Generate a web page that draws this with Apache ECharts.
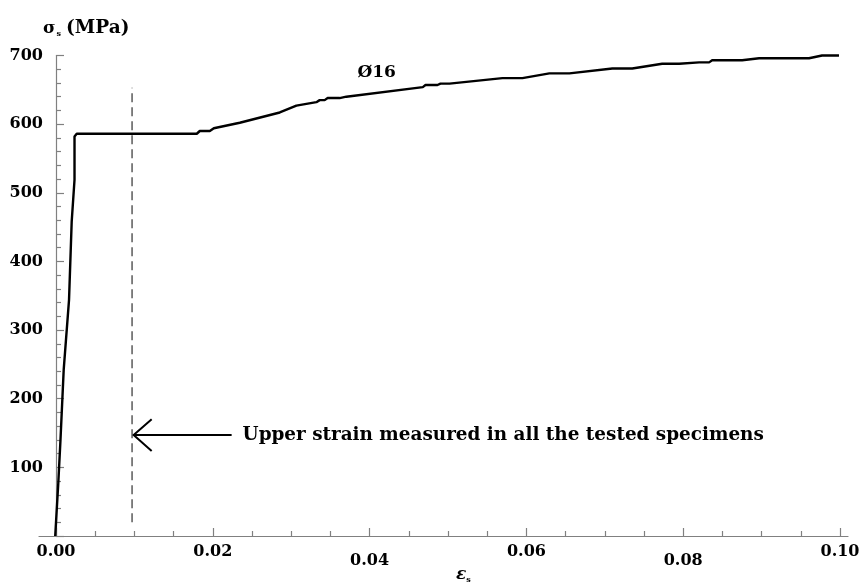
<!DOCTYPE html>
<html>
<head>
<meta charset="utf-8">
<script src="https://cdn.jsdelivr.net/npm/echarts@6/dist/echarts.min.js"></script>
<style>
  html, body { margin: 0; padding: 0; background: #fff; }
  #chart { width: 864px; height: 583px; }
</style>
</head>
<body>
<div id="chart"></div>
<script>
// Stress-strain curve of the Ø16 bar (strain, stress in MPa)
const strain = [-0.0001, 0.0000, 0.00029, 0.00057, 0.00098, 0.00166, 0.00200, 0.00236, 0.00236, 0.00264,
  0.01796, 0.01834, 0.01962, 0.02013, 0.02344, 0.02854, 0.03066, 0.03321, 0.03363, 0.03427, 0.03465,
  0.03618, 0.03703, 0.04679, 0.04713, 0.04866, 0.04904, 0.05019, 0.05694, 0.05949, 0.06293, 0.06548,
  0.07096, 0.07350, 0.07732, 0.07949, 0.08204, 0.08331, 0.08369, 0.08752, 0.08968, 0.09605, 0.09771, 0.09987];
const stress = [0, 20, 77, 140, 242, 344, 458, 519, 582, 586,
  586, 590, 590, 594, 602, 617, 627, 632, 635, 635, 638,
  638, 640, 654, 657, 657, 659, 659, 667, 667, 674, 674,
  681, 681, 688, 688, 690, 690, 693, 693, 696, 696, 700, 700];

// Axis ticks
const xMajorTicks = [0, 0.02, 0.04, 0.06, 0.08, 0.10];
const xMinorTicks = [0.005, 0.01, 0.015, 0.025, 0.03, 0.035, 0.045, 0.05, 0.055,
  0.065, 0.07, 0.075, 0.085, 0.09, 0.095];
const xLowLabels = [0.04, 0.08];

// Upper measured strain marker and arrow
const markerStrain = [0.0097, 0.0097];
const markerStress = [20, 653];
const arrowShaft = [[0.0224, 147], [0.0099, 147]];
const arrowHead = [[0.0122, 170], [0.0099, 147], [0.0122, 124]];
const noteText = 'Upper strain measured in all the tested specimens';
const notePos = [0.0238, 147];
const curveName = 'Ø16';
const curveNamePos = [0.0409, 675];

const FONT = 'DejaVu Serif';
const AXIS_GRAY = '#808080';

const chart = echarts.init(document.getElementById('chart'), null, { renderer: 'canvas' });

const curve = strain.map((x, i) => [x, stress[i]]);

chart.setOption({
  animation: false,
  backgroundColor: '#fff',
  title: [
    {
      text: '{g|σ}{s|s} {m|(MPa)}',
      left: 38, top: 14,
      textStyle: {
        rich: {
          g: { fontFamily: FONT, fontSize: 17, color: '#000' },
          s: { fontFamily: FONT, fontSize: 8, color: '#000', padding: [11, 0, 0, 1] },
          m: { fontFamily: FONT, fontSize: 18.5, fontWeight: 'bold', color: '#000' }
        }
      }
    },
    {
      text: '{e|ε}{s|s}',
      left: 451, top: 561,
      textStyle: {
        rich: {
          e: { fontFamily: FONT, fontSize: 17, fontStyle: 'italic', color: '#000' },
          s: { fontFamily: FONT, fontSize: 8, color: '#000', padding: [10, 0, 0, 0] }
        }
      }
    }
  ],
  grid: { left: 39, right: 16, top: 55.5, bottom: 47, containLabel: false },
  xAxis: [
    {
      type: 'value', min: -0.00217, max: 0.10102, position: 'bottom',
      axisLine: { onZero: false, lineStyle: { color: AXIS_GRAY, width: 1.2 } },
      axisTick: { inside: true, length: 8, customValues: xMajorTicks, lineStyle: { color: AXIS_GRAY, width: 1.2 } },
      axisLabel: {
        customValues: xMajorTicks, margin: 8,
        formatter: v => {
          const s = v.toFixed(2);
          return xLowLabels.some(t => Math.abs(t - v) < 1e-9) ? '{lo|' + s + '}' : '{hi|' + s + '}';
        },
        rich: {
          hi: { fontFamily: FONT, fontSize: 16, fontWeight: 'bold', color: '#000' },
          lo: { fontFamily: FONT, fontSize: 16, fontWeight: 'bold', color: '#000', padding: [9, 0, 0, 0] }
        }
      },
      splitLine: { show: false }
    },
    {
      type: 'value', min: -0.00217, max: 0.10102, position: 'bottom',
      axisLine: { show: false, onZero: false },
      axisTick: { inside: true, length: 5, customValues: xMinorTicks, lineStyle: { color: AXIS_GRAY, width: 1.2 } },
      axisLabel: { show: false },
      splitLine: { show: false }
    }
  ],
  yAxis: {
    type: 'value', min: 0, max: 700, interval: 100, position: 'left', offset: -17,
    axisLine: { show: true, onZero: false, lineStyle: { color: AXIS_GRAY, width: 1.2 } },
    axisTick: { inside: true, length: 8, lineStyle: { color: AXIS_GRAY, width: 1.2 } },
    minorTick: { show: true, splitNumber: 5, length: 5, lineStyle: { color: AXIS_GRAY, width: 1.2 } },
    axisLabel: {
      margin: 13, fontFamily: FONT, fontSize: 16, fontWeight: 'bold', color: '#000',
      formatter: v => (v === 0 ? '' : String(v))
    },
    splitLine: { show: false }
  },
  series: [
    {
      type: 'line', xAxisIndex: 0, data: curve, showSymbol: false, symbol: 'none',
      lineStyle: { color: '#000', width: 2.4 }, clip: false, z: 5
    },
    {
      type: 'line', xAxisIndex: 0, data: markerStrain.map((x, i) => [x, markerStress[i]]),
      symbol: 'none', lineStyle: { color: '#4d4d4d', width: 1.4, type: [9, 5] }
    },
    {
      type: 'line', xAxisIndex: 0, data: arrowShaft, symbol: 'none',
      lineStyle: { color: '#000', width: 2 }
    },
    {
      type: 'line', xAxisIndex: 0, data: arrowHead, symbol: 'none',
      lineStyle: { color: '#000', width: 2, join: 'miter' }
    },
    {
      type: 'scatter', xAxisIndex: 0, symbolSize: 0, silent: true,
      itemStyle: { opacity: 0 },
      data: [
        {
          value: notePos, name: noteText,
          label: { position: 'right', distance: 0, fontSize: 18.4 }
        },
        {
          value: curveNamePos, name: curveName,
          label: { position: 'inside', fontSize: 17 }
        }
      ],
      label: {
        show: true, formatter: p => p.name, opacity: 1,
        fontFamily: FONT, fontWeight: 'bold', color: '#000'
      }
    }
  ]
});
</script>
</body>
</html>
